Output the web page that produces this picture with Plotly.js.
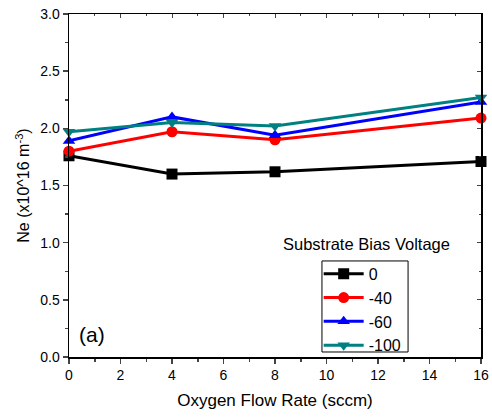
<!DOCTYPE html>
<html>
<head>
<meta charset="utf-8">
<script src="https://cdn.plot.ly/plotly-3.0.1.min.js"></script>
<style>html,body{margin:0;padding:0;background:#fff}#chart{width:492px;height:417px}</style>
</head>
<body>
<div id="chart"></div>
<script>
const flowRate = [0, 4, 8, 16];
const seriesNames = ['0', '-40', '-60', '-100'];
const ne_0 = [1.76, 1.60, 1.62, 1.71];
const ne_40 = [1.80, 1.97, 1.90, 2.09];
const ne_60 = [1.89, 2.10, 1.94, 2.23];
const ne_100 = [1.97, 2.05, 2.02, 2.27];
const xTicks = [0, 2, 4, 6, 8, 10, 12, 14, 16];
const yTicks = [0.0, 0.5, 1.0, 1.5, 2.0, 2.5, 3.0];

const colors = ['#000000', '#ff0000', '#0000ff', '#008080'];
const symbols = ['square', 'circle', 'triangle-up', 'triangle-down'];
const values = [ne_0, ne_40, ne_60, ne_100];

const traces = values.map((v, i) => ({
  x: flowRate, y: v, name: seriesNames[i], type: 'scatter', mode: 'lines+markers',
  cliponaxis: false,
  line: {color: colors[i], width: 3},
  marker: {color: colors[i], symbol: symbols[i], size: 11}
}));
traces.push({x: [0], y: [0], xaxis: 'x2', yaxis: 'y2', mode: 'markers', marker: {opacity: 0}, showlegend: false, hoverinfo: 'skip'});

const font = {family: 'Liberation Sans, Arial, sans-serif', color: '#000'};
const layout = {
  width: 492, height: 417,
  margin: {l: 69, r: 11, t: 14, b: 60},
  paper_bgcolor: '#fff', plot_bgcolor: '#fff',
  font: font,
  showlegend: true,
  legend: {
    x: 0.606, y: 0.292, xanchor: 'left', yanchor: 'top',
    borderwidth: 0, bgcolor: 'rgba(255,255,255,0)',
    font: {family: font.family, size: 16, color: '#000'},
    itemwidth: 40, tracegroupgap: 0
  },
  xaxis: {
    range: [0, 16], tickvals: xTicks, ticks: 'outside', ticklen: 5, tickwidth: 1.5,
    showline: true, linewidth: 1.5, linecolor: '#000', showgrid: false, zeroline: false,
    tickfont: {family: font.family, size: 14},
    minor: {dtick: 1, ticks: 'outside', ticklen: 3, tickwidth: 1.5, showgrid: false},
    title: {text: 'Oxygen Flow Rate (sccm)', font: {family: font.family, size: 17}, standoff: 12}
  },
  yaxis: {
    range: [0, 3], tickvals: yTicks, ticktext: yTicks.map(t => t.toFixed(1)),
    ticks: 'outside', ticklen: 5, tickwidth: 1.5,
    showline: true, linewidth: 1.5, linecolor: '#000', showgrid: false, zeroline: false,
    tickfont: {family: font.family, size: 14},
    minor: {dtick: 0.25, ticks: 'outside', ticklen: 3, tickwidth: 1.5, showgrid: false},
    title: {text: 'Ne (x10^16 m<sup>-3</sup>)', font: {family: font.family, size: 16}, standoff: 6}
  },
  xaxis2: {
    overlaying: 'x', side: 'top', range: [0, 16], tickvals: xTicks, ticks: 'inside', ticklen: 4,
    showticklabels: false, showline: true, linewidth: 1.5, linecolor: '#000', showgrid: false, zeroline: false,
    minor: {dtick: 1, ticks: 'inside', ticklen: 2, showgrid: false}
  },
  yaxis2: {
    overlaying: 'y', side: 'right', range: [0, 3], tickvals: yTicks, ticks: 'inside', ticklen: 4,
    showticklabels: false, showline: true, linewidth: 1.5, linecolor: '#000', showgrid: false, zeroline: false,
    minor: {dtick: 0.25, ticks: 'inside', ticklen: 2, showgrid: false}
  },
  shapes: [
    {type: 'rect', xref: 'paper', yref: 'paper', x0: 0.614, x1: 0.823, y0: 0.0146, y1: 0.280, line: {color: '#000', width: 1}}
  ],
  annotations: [
    {text: 'Substrate Bias Voltage', xref: 'paper', yref: 'paper', x: 0.723, y: 0.329, xanchor: 'center', yanchor: 'middle', showarrow: false, font: {family: font.family, size: 16.5}},
    {text: '(a)', xref: 'paper', yref: 'paper', x: 0.02, y: 0.025, xanchor: 'left', yanchor: 'bottom', showarrow: false, font: {family: font.family, size: 21}}
  ]
};
Plotly.newPlot('chart', traces, layout, {displayModeBar: false, staticPlot: true});
</script>
</body>
</html>
